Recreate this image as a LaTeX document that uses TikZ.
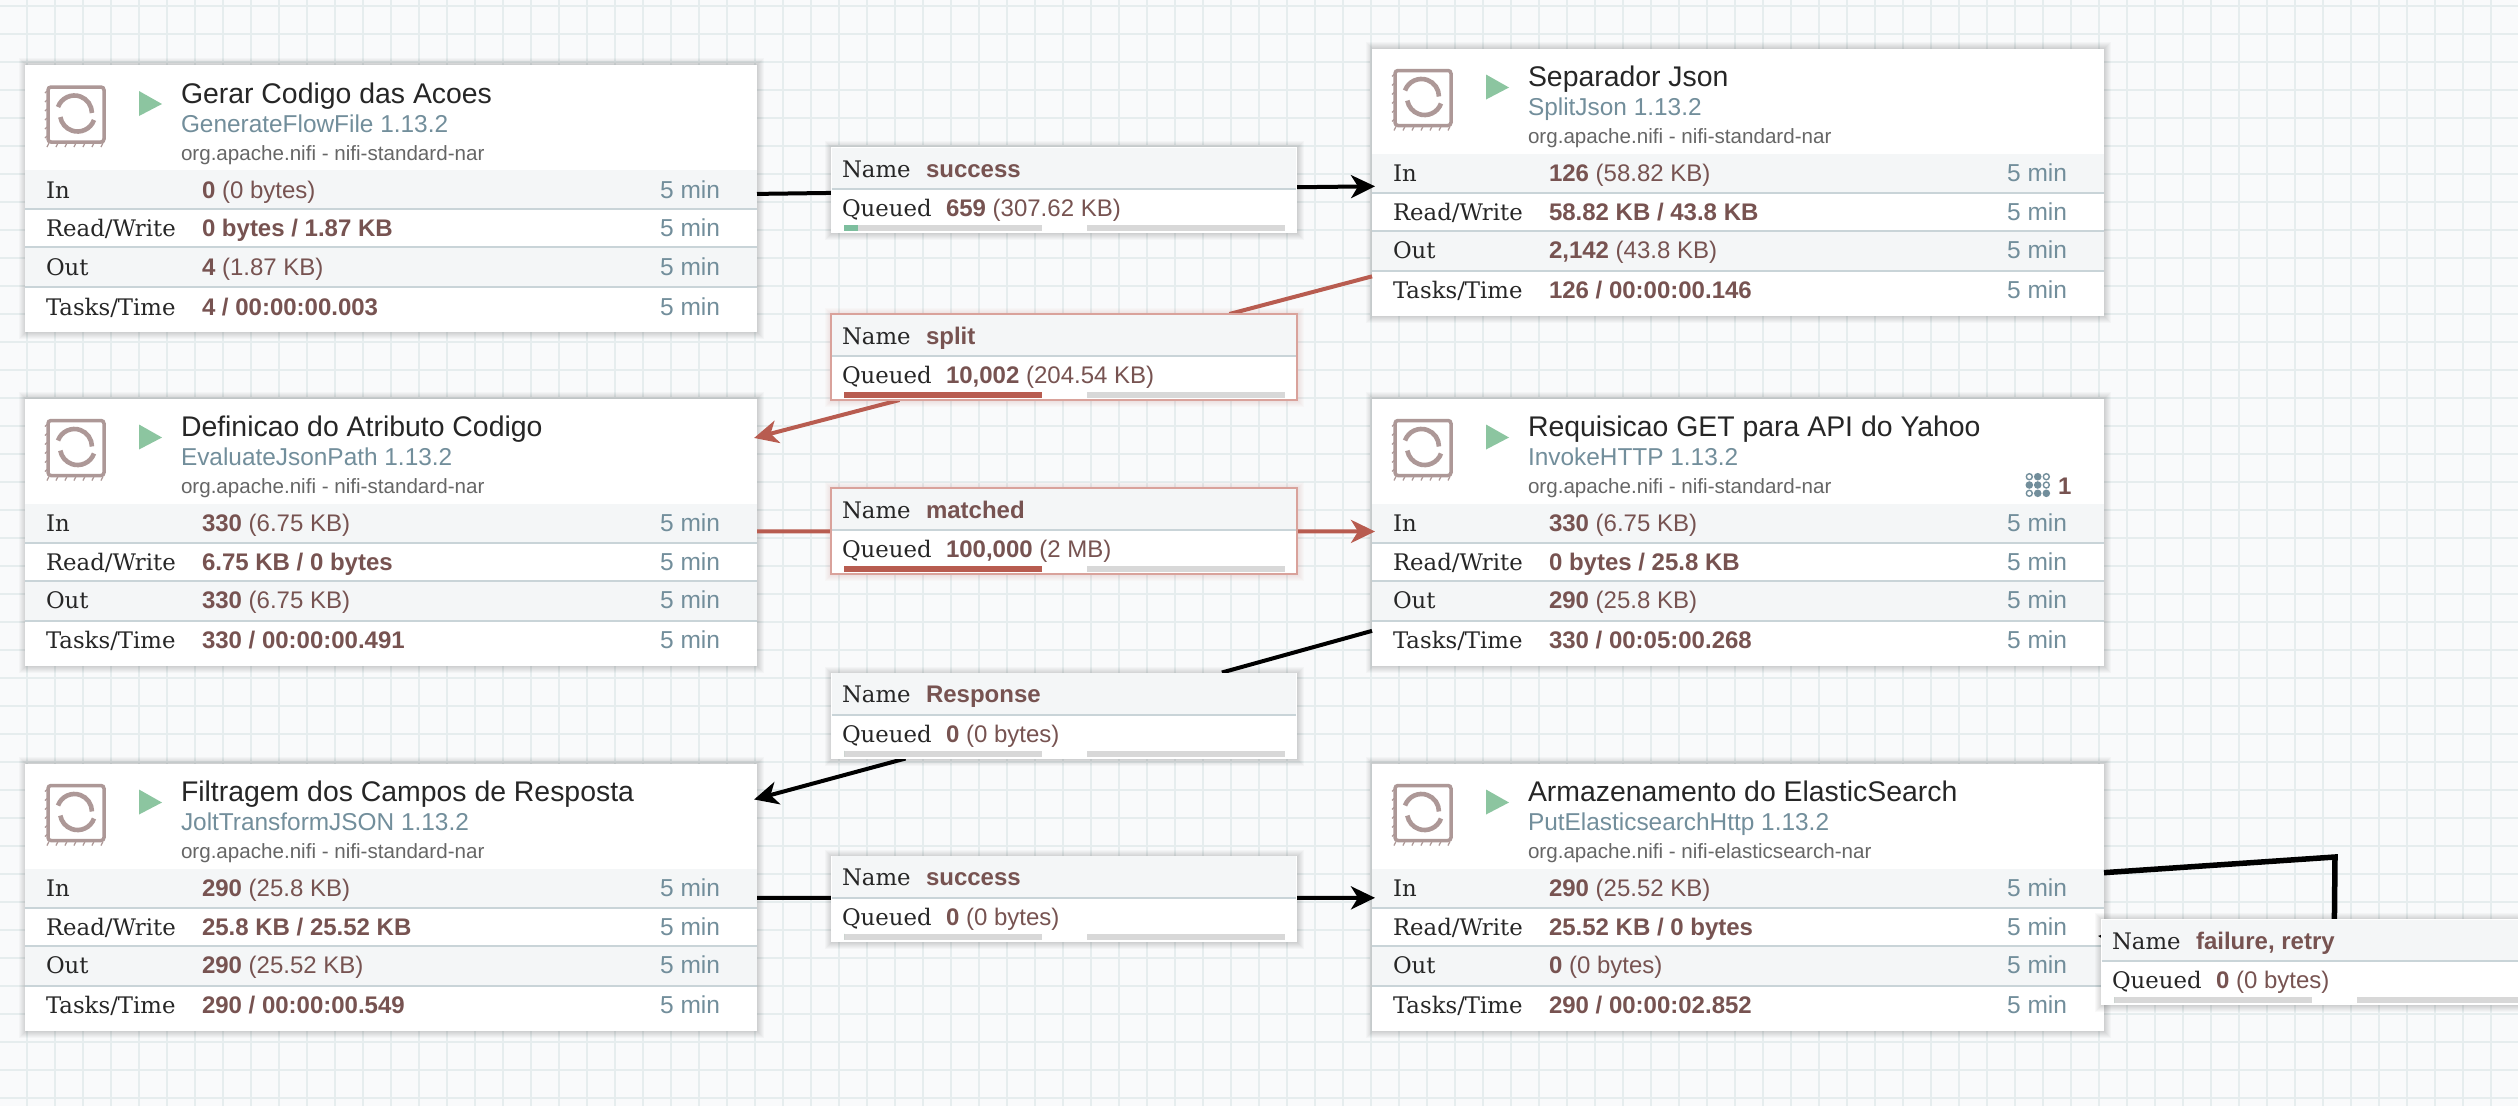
\documentclass[tikz,border=0pt]{standalone}
\usepackage{fontspec}
\setmainfont{Liberation Sans}
\newfontfamily\slab{DejaVu Serif}
\usetikzlibrary{arrows.meta}
\definecolor{bgc}{HTML}{F9FAFB}
\definecolor{gridc}{HTML}{E6EDEE}
\definecolor{rowc}{HTML}{F4F6F7}
\definecolor{sepc}{HTML}{C9D4D8}
\definecolor{valc}{HTML}{775351}
\definecolor{typec}{HTML}{728E9B}
\definecolor{bundc}{HTML}{666666}
\definecolor{labc}{HTML}{262626}
\definecolor{iconc}{HTML}{AD9897}
\definecolor{playc}{HTML}{8CC5A0}
\definecolor{redc}{HTML}{B85C50}
\definecolor{redb}{HTML}{D9A29B}
\definecolor{barc}{HTML}{D8D8D8}
\definecolor{greenc}{HTML}{7DBE9E}
\pgfdeclarelayer{cardlayer}
\pgfdeclarelayer{connlayer}
\pgfsetlayers{cardlayer,connlayer,main}
\newcommand{\fsz}[1]{\fontsize{#1}{#1}\selectfont}
\newcommand{\sv}[1]{{\bfseries #1}}
\tikzset{
  every node/.style={inner sep=0pt,outer sep=0pt},
  gridline/.style={draw=gridc,line width=1.6pt},
  cardbox/.style={fill=white,minimum width=732pt,minimum height=267pt,anchor=north west},
  labbox/.style={minimum width=466pt,minimum height=86pt,anchor=north west},
  labedge-black/.style={},
  labedge-redc/.style={draw=redb,line width=1.4pt},
  txtw/.style={anchor=base west},
  txte/.style={anchor=base east},
  titletxt/.style={txtw,text=labc,font=\fsz{28.4}},
  typetxt/.style={txtw,text=typec,font=\fsz{24.4}},
  bundtxt/.style={txtw,text=bundc,font=\fsz{20.6}},
  stlabel/.style={txtw,text=labc,font=\slab\fsz{22.8}},
  stvalue/.style={txtw,text=valc,font=\fsz{24}},
  sttime/.style={txte,text=typec,font=\fsz{24.5}},
  conn/.style={draw=black,line width=4pt,line join=miter},
  connred/.style={draw=redc,line width=4pt},
  tip/.style={-{Stealth[length=24pt,width=23pt,inset=7pt]},shorten >=-3pt},
  iconline/.style={draw=iconc,line width=3.5pt},
  iconarc/.style={draw=iconc,line width=4.6pt},
  threadon/.style={circle,fill=typec,minimum size=7.6pt},
  threadoff/.style={circle,draw=typec,line width=1.4pt,minimum size=6pt},
}
% card: name, x, y, title, type, bundle
\newcommand{\proccard}[6]{%
 \begin{scope}[shift={(#2,#3)}]
  \foreach \k in {1,...,8}{\fill[black,opacity=.022] (-\k+2,-\k+1) rectangle (731+\k,266+\k);}
  \node[cardbox] (#1) at (0,0) {};
  \fill[rowc] (0,105) rectangle (732,144);
  \fill[rowc] (0,182) rectangle (732,222);
  \draw[draw=sepc,line width=2pt] (0,144)--(732,144) (0,182)--(732,182) (0,222)--(732,222);
  \draw[iconline,rounded corners=3pt] (23,22) rectangle (79,77);
  \foreach \t in {24,33,...,78}{\draw[draw=iconc,line width=1.2pt] (\t,78)--(\t-2,82);}
  \foreach \t in {26,35,...,76}{\draw[draw=iconc,line width=1.2pt] (22,\t)--(20,\t+2);}
  \draw[iconarc] (33,42) arc[start angle=200,end angle=360,radius=17.5];
  \draw[iconarc] (69,55) arc[start angle=20,end angle=170,radius=17.5];
  \fill[playc] (114,26)--(137,39)--(114,51)--cycle;
  \node[titletxt] (#1-title) at (156,38) {#4};
  \node[typetxt] (#1-type) at (156,67) {#5};
  \node[bundtxt] (#1-bundle) at (156,95) {#6};
 \end{scope}}
% stats: name, x, y, in, rw, out, tasks
\newcommand{\procstats}[7]{%
 \begin{scope}[shift={(#2,#3)}]
  \node[stlabel] (#1-l1) at (21,133) {In};
  \node[stlabel] (#1-l2) at (21,171.5) {Read/Write};
  \node[stlabel] (#1-l3) at (21,210) {Out};
  \node[stlabel] (#1-l4) at (21,250) {Tasks/Time};
  \node[stvalue] (#1-v1) at (177,133) {#4};
  \node[stvalue] (#1-v2) at (177,171.5) {#5};
  \node[stvalue] (#1-v3) at (177,210) {#6};
  \node[stvalue] (#1-v4) at (177,250) {#7};
  \node[sttime] (#1-t1) at (695,133) {5 min};
  \node[sttime] (#1-t2) at (695,171.5) {5 min};
  \node[sttime] (#1-t3) at (695,210) {5 min};
  \node[sttime] (#1-t4) at (695,250) {5 min};
 \end{scope}}
% label: name, x, y, relationship, count, size, bar width, bar colour, shadow/border colour
\newcommand{\connlabel}[9]{%
 \begin{scope}[shift={(#2,#3)}]
  \foreach \k in {1,...,7}{\fill[#9,opacity=.025] (-\k+1,-\k+1) rectangle (466+\k,86+\k);}
  \node[labbox,fill=white,labedge-#9] (#1) at (0,0) {};
  \fill[rowc] (0.7,0.7) rectangle (465.3,42);
  \draw[draw=sepc,line width=2pt] (0.7,42)--(465.3,42);
  \node[stlabel] (#1-n) at (11,30) {Name};
  \node[stvalue] (#1-nv) at (95,30) {\sv{#4}};
  \node[stlabel] (#1-q) at (11,69.5) {Queued};
  \node[stvalue] (#1-qv) at (115,69.5) {\sv{#5} #6};
  \fill[barc] (13,78) rectangle (210.5,84);
  \fill[barc] (256,78) rectangle (454,84);
  \fill[#8] (13,78) rectangle (13+#7,84);
 \end{scope}}
\begin{document}
\begin{tikzpicture}[x=1pt,y=-1pt]
\useasboundingbox (0,0) rectangle (2518,1106);
\begin{pgfonlayer}{cardlayer}
\fill[bgc] (0,0) rectangle (2518,1106);
\foreach \gx in {27,55,...,2518}{\draw[gridline] (\gx,0)--(\gx,1106);}
\foreach \gy in {6,34,...,1106}{\draw[gridline] (0,\gy)--(2518,\gy);}
\proccard{gen}{25}{65}{Gerar Codigo das Acoes}{GenerateFlowFile 1.13.2}{org.apache.nifi - nifi-standard-nar}
\procstats{gen}{25}{65}{\sv{0} (0 bytes)}{\sv{0 bytes / 1.87 KB}}{\sv{4} (1.87 KB)}{\sv{4 / 00:00:00.003}}
\proccard{spl}{1372}{48.5}{Separador Json}{SplitJson 1.13.2}{org.apache.nifi - nifi-standard-nar}
\procstats{spl}{1372}{48.5}{\sv{126} (58.82 KB)}{\sv{58.82 KB / 43.8 KB}}{\sv{2,142} (43.8 KB)}{\sv{126 / 00:00:00.146}}
\proccard{def}{25}{398.5}{Definicao do Atributo Codigo}{EvaluateJsonPath 1.13.2}{org.apache.nifi - nifi-standard-nar}
\procstats{def}{25}{398.5}{\sv{330} (6.75 KB)}{\sv{6.75 KB / 0 bytes}}{\sv{330} (6.75 KB)}{\sv{330 / 00:00:00.491}}
\proccard{req}{1372}{398.5}{Requisicao GET para API do Yahoo}{InvokeHTTP 1.13.2}{org.apache.nifi - nifi-standard-nar}
\procstats{req}{1372}{398.5}{\sv{330} (6.75 KB)}{\sv{0 bytes / 25.8 KB}}{\sv{290} (25.8 KB)}{\sv{330 / 00:05:00.268}}
\proccard{fil}{25}{763.5}{Filtragem dos Campos de Resposta}{JoltTransformJSON 1.13.2}{org.apache.nifi - nifi-standard-nar}
\procstats{fil}{25}{763.5}{\sv{290} (25.8 KB)}{\sv{25.8 KB / 25.52 KB}}{\sv{290} (25.52 KB)}{\sv{290 / 00:00:00.549}}
\proccard{put}{1372}{763.5}{Armazenamento do ElasticSearch}{PutElasticsearchHttp 1.13.2}{org.apache.nifi - nifi-elasticsearch-nar}
\procstats{put}{1372}{763.5}{\sv{290} (25.52 KB)}{\sv{25.52 KB / 0 bytes}}{\sv{0} (0 bytes)}{\sv{290 / 00:00:02.852}}
\foreach \tn/\tx/\ty/\ts in {a/2029.3/476.7/threadoff,b/2037.7/476.7/threadon,c/2046.3/476.7/threadoff,
  d/2029.3/485/threadon,e/2037.7/485/threadon,f/2046.3/485/threadoff,
  g/2029.3/493.3/threadoff,h/2037.7/493.3/threadon,i/2046.3/493.3/threadon}{\node[\ts] (th\tn) at (\tx,\ty) {};}
\node[stvalue,anchor=base west] (thcount) at (2058,494) {\sv{1}};
\end{pgfonlayer}
\connlabel{lsuc}{831}{147}{success}{659}{(307.62 KB)}{14}{greenc}{black}
\connlabel{lspl}{831}{314}{split}{10,002}{(204.54 KB)}{197.5}{redc}{redc}
\connlabel{lmat}{831}{488}{matched}{100,000}{(2 MB)}{197.5}{redc}{redc}
\connlabel{lres}{831}{672.5}{Response}{0}{(0 bytes)}{0}{greenc}{black}
\connlabel{lsu2}{831}{855.5}{success}{0}{(0 bytes)}{0}{greenc}{black}
\connlabel{lfai}{2101}{919}{failure, retry}{0}{(0 bytes)}{0}{greenc}{black}
\coordinate (bend) at (2335,857);
\begin{pgfonlayer}{connlayer}
\draw[conn] (gen) -- (lsuc);
\draw[conn,tip] (lsuc) -- (spl);
\draw[connred] (spl) -- (lspl);
\draw[connred,tip] (lspl) -- (def);
\draw[connred] (def) -- (lmat);
\draw[connred,tip] (lmat) -- (req);
\draw[conn] (req) -- (lres);
\draw[conn,tip] (lres) -- (fil);
\draw[conn] (fil) -- (lsu2);
\draw[conn,tip] (lsu2) -- (put);
\draw[conn,line width=5.5pt] (put) -- (bend) -- (lfai);
\draw[conn,tip,shorten >=-6pt] (lfai.center) -- (put);
\end{pgfonlayer}
\end{tikzpicture}
\end{document}
